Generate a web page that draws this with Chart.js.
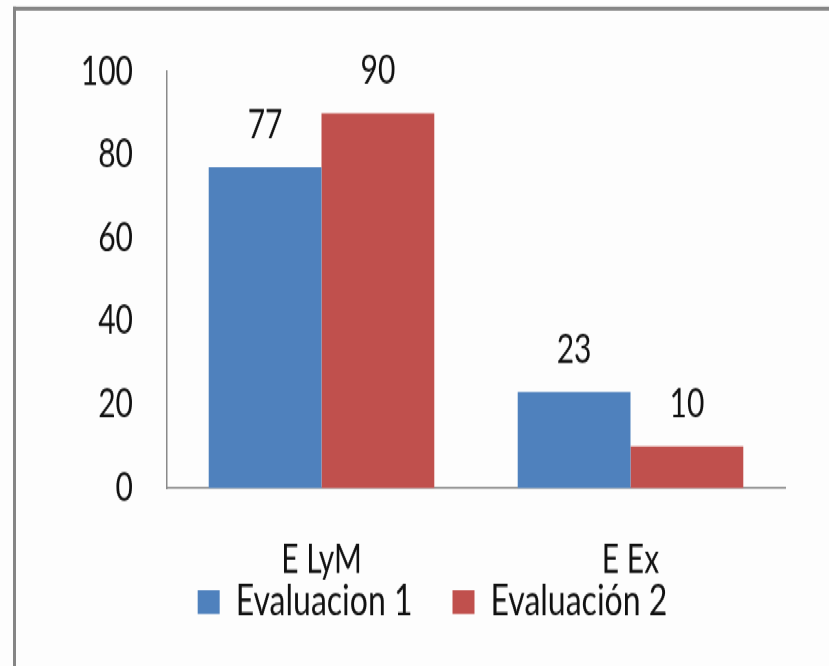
<!DOCTYPE html>
<html>
<head>
<meta charset="utf-8">
<script src="https://cdn.jsdelivr.net/npm/chart.js@4"></script>
<style>
    html, body { margin: 0; padding: 0; background: #fdfdfd; overflow: hidden; }
    /* the original picture is squeezed sideways, so draw at 501px high and stretch */
    #stage { position: absolute; left: 0; top: 0; width: 829px; height: 501px; transform-origin: 0 0; transform: scaleY(1.3293); }
    #frame { position: absolute; left: 13px; top: 5px; width: 900px; height: 600px; border-top: 3px solid #858585; border-left: 3px solid #858585; }
    #chart { position: absolute; left: 0; top: 0; }
</style>
</head>
<body>
<div id="stage">
    <div id="frame"></div>
    <canvas id="chart" width="829" height="501"></canvas>
</div>
<script>
const categories = ['E LyM', 'E Ex'];
const seriesNames = ['Evaluacion 1', 'Evaluación 2'];
const evaluacion1 = [77, 23];
const evaluacion2 = [90, 10];
const seriesColors = ['#4F81BD', '#C0504D'];
const yTicks = [0, 20, 40, 60, 80, 100];

Chart.defaults.font.family = 'Lato, "Open Sans", sans-serif';
Chart.defaults.font.size = 30;
Chart.defaults.color = '#111111';

// value labels above each bar
const valueLabels = {
    id: 'valueLabels',
    afterLayout(chart) {
        // x tick labels get clipped to the axis box, let them hang into the legend
        chart.scales.x.bottom = chart.height;
    },
    afterDatasetsDraw(chart) {
        const ctx = chart.ctx;
        ctx.save();
        ctx.font = '30px Lato, "Open Sans", sans-serif';
        ctx.fillStyle = '#111111';
        ctx.textAlign = 'center';
        ctx.textBaseline = 'alphabetic';
        chart.data.datasets.forEach((ds, i) => {
            chart.getDatasetMeta(i).data.forEach((bar, j) => {
                ctx.fillText(String(ds.data[j]), bar.x, bar.y - 22);
            });
        });
        ctx.restore();
    }
};

new Chart(document.getElementById('chart'), {
    type: 'bar',
    data: {
        labels: categories,
        datasets: [
            { label: seriesNames[0], data: evaluacion1, backgroundColor: seriesColors[0] },
            { label: seriesNames[1], data: evaluacion2, backgroundColor: seriesColors[1] }
        ]
    },
    options: {
        responsive: false,
        animation: false,
        devicePixelRatio: 1,
        categoryPercentage: 0.73,
        barPercentage: 1,
        layout: { padding: { top: 54, right: 44, bottom: 22, left: 80 } },
        plugins: {
            tooltip: { enabled: false },
            legend: {
                position: 'bottom',
                labels: { boxWidth: 22, boxHeight: 18, padding: 40, font: { size: 32 } }
            }
        },
        scales: {
            x: {
                grid: { display: false, drawTicks: false },
                border: { display: true, color: '#8a8a8a', width: 1.5 },
                ticks: { padding: 36 },
                afterFit: scale => { scale.height = 30; }
            },
            y: {
                min: 0,
                max: 100,
                afterBuildTicks: scale => { scale.ticks = yTicks.map(v => ({ value: v })); },
                grid: { display: false, drawTicks: false },
                border: { display: true, color: '#8a8a8a', width: 1.5 },
                ticks: { padding: 34 },
                afterFit: scale => { scale.width = 87; }
            }
        }
    },
    plugins: [valueLabels]
});
</script>
</body>
</html>
